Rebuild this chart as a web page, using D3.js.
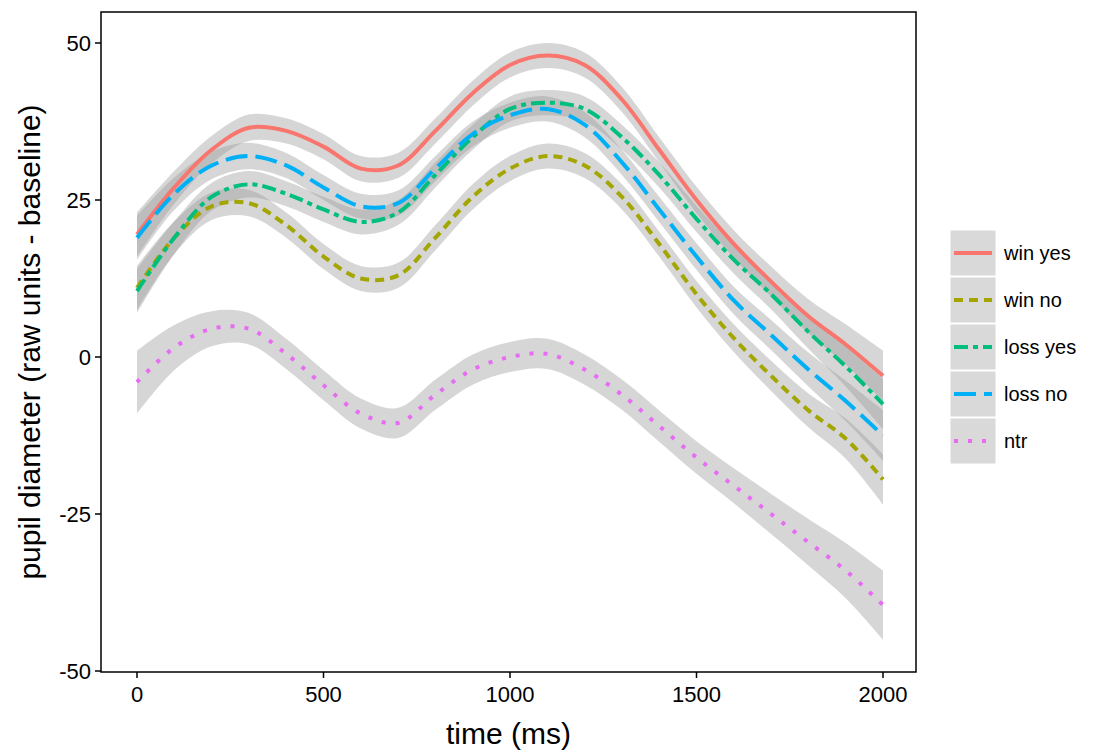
<!DOCTYPE html>
<html><head><meta charset="utf-8">
<script src="https://cdn.jsdelivr.net/npm/d3@7"></script>
<style>body{margin:0;background:#fff}text{font-family:"Liberation Sans",Arial,sans-serif}</style>
</head><body>
<script>
var times = [0,100,200,300,400,500,600,700,800,900,1000,1100,1200,1300,1400,1500,1600,1700,1800,1900,2000];
var seriesNames = ["win yes","win no","loss yes","loss no","ntr"];
var seriesColors = ["#F8766D","#A3A500","#00BF7D","#00B0F6","#E76BF3"];
var seriesDash = ["", "9,6", "14,5,5,5", "22,8", "4,10"];
var winYes  = [19.5,27,33,36.5,36,33.5,30,30.5,36,42,46.5,48,46.5,41,33,25,18,12,6.5,2,-3];
var winNo   = [11,19,24,24.5,21,16,12.5,13,19,25.5,30,32,30.5,25.5,18,10,3,-3,-8.5,-13,-19.5];
var lossYes = [10.5,19,25.5,27.5,26,23.5,21.5,23,29,35,39.5,40.5,39.5,35,29,22,15.5,10,4,-1.5,-7.5];
var lossNo  = [19,26,30.5,32,30.5,27,24,24.5,30,35.5,38.5,39.5,37,31,23.5,16,9,3.5,-2,-7,-12.5];
var ntr     = [-4,1.5,4.5,4.5,0.5,-4.5,-9,-10.5,-6,-2,0,0.5,-2,-6,-11,-16,-20.5,-25,-29.5,-34,-39.5];
var bandHalf    = [3.5,2.6,2.2,2.1,2,2,2,2,2,2,2,2,2,2,2,2.1,2.2,2.4,2.7,3.2,4];
var bandHalfNtr = [5,3.6,2.8,2.5,2.4,2.4,2.4,2.4,2.4,2.4,2.4,2.4,2.4,2.4,2.5,2.6,2.8,3.2,3.7,4.4,5.5];
var yTicks = [-50,-25,0,25,50];
var xTicks = [0,500,1000,1500,2000];

var values = [winYes,winNo,lossYes,lossNo,ntr];
var bands = [bandHalf,bandHalf,bandHalf,bandHalf,bandHalfNtr];

var svg = d3.select("body").append("svg").attr("width",1095).attr("height",751);
var L=101,R=916,T=12,B=672;
var x = d3.scaleLinear().domain([0,2000]).range([137,883]);
var y = d3.scaleLinear().domain([-50,50]).range([671,43]);

var area = d3.area().curve(d3.curveCatmullRom)
  .x(function(d){return x(d.t);}).y0(function(d){return y(d.v-d.h);}).y1(function(d){return y(d.v+d.h);});
var line = d3.line().curve(d3.curveCatmullRom)
  .x(function(d){return x(d.t);}).y(function(d){return y(d.v);});

function pts(i){ return times.map(function(t,j){return {t:t,v:values[i][j],h:bands[i][j]};}); }

values.forEach(function(v,i){
  svg.append("path").attr("d",area(pts(i))).attr("fill","#999").attr("fill-opacity",0.4);
});
values.forEach(function(v,i){
  svg.append("path").attr("d",line(pts(i))).attr("fill","none")
    .attr("stroke",seriesColors[i]).attr("stroke-width",4)
    .attr("stroke-dasharray",seriesDash[i]);
});

svg.append("rect").attr("x",L).attr("y",T).attr("width",R-L).attr("height",B-T)
  .attr("fill","none").attr("stroke","#000").attr("stroke-width",1.5);

xTicks.forEach(function(t){
  svg.append("line").attr("x1",x(t)).attr("x2",x(t)).attr("y1",B).attr("y2",B+6).attr("stroke","#000").attr("stroke-width",1.5);
  svg.append("text").attr("x",x(t)).attr("y",B+30).attr("text-anchor","middle").attr("font-size",22).text(t);
});
yTicks.forEach(function(t){
  svg.append("line").attr("x1",L-6).attr("x2",L).attr("y1",y(t)).attr("y2",y(t)).attr("stroke","#000").attr("stroke-width",1.5);
  svg.append("text").attr("x",L-10).attr("y",y(t)+8).attr("text-anchor","end").attr("font-size",22).text(t);
});
svg.append("text").attr("x",(L+R)/2).attr("y",744).attr("text-anchor","middle").attr("font-size",30).text("time (ms)");
svg.append("text").attr("transform","translate(40,"+((T+B)/2)+") rotate(-90)").attr("text-anchor","middle").attr("font-size",30).text("pupil diameter (raw units - baseline)");

var lg = svg.append("g").attr("transform","translate(950,230)");
seriesNames.forEach(function(n,i){
  var g = lg.append("g").attr("transform","translate(0,"+(i*47)+")");
  g.append("rect").attr("width",46).attr("height",46).attr("fill","#d9d9d9").attr("stroke","#fff").attr("stroke-width",1);
  g.append("line").attr("x1",4).attr("x2",42).attr("y1",23).attr("y2",23)
    .attr("stroke",seriesColors[i]).attr("stroke-width",4).attr("stroke-dasharray",seriesDash[i]);
  g.append("text").attr("x",54).attr("y",30).attr("font-size",20).text(n);
});
</script>
</body></html>
